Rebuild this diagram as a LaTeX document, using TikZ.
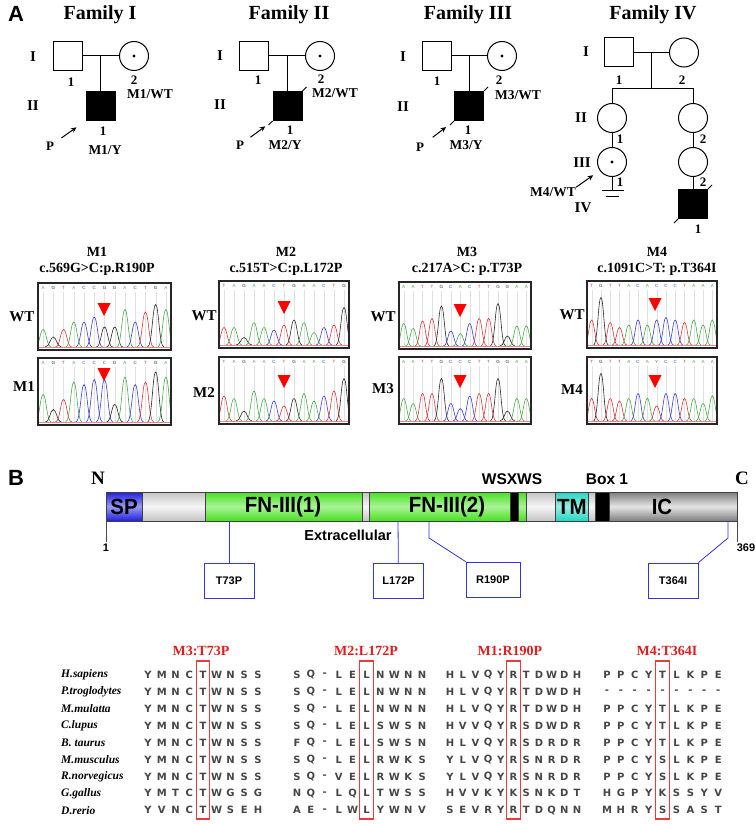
\documentclass[tikz,border=0pt]{standalone}
\usepackage{fontspec}
\setmainfont{Liberation Serif}
\setsansfont{Liberation Sans}
\newfontfamily\seqfont{DejaVu Sans}
\usetikzlibrary{calc,arrows.meta}

\definecolor{baseA}{RGB}{70,170,70}
\definecolor{baseC}{RGB}{60,60,210}
\definecolor{baseG}{RGB}{40,40,40}
\definecolor{baseT}{RGB}{215,55,55}
\definecolor{baseY}{RGB}{215,55,55}
\definecolor{spblue}{RGB}{30,30,225}
\definecolor{exgray}{RGB}{195,195,195}
\definecolor{fngreen}{RGB}{70,225,30}
\definecolor{tmcyan}{RGB}{30,215,195}
\definecolor{icgray}{RGB}{125,125,125}
\definecolor{mutblue}{RGB}{50,50,230}
\definecolor{hitred}{RGB}{225,30,30}
\definecolor{boxred}{RGB}{235,60,60}
\definecolor{aagray}{RGB}{70,70,70}

\tikzset{
  ped/.style={line width=1pt},
  male/.style={draw, line width=1pt, minimum size=29pt, inner sep=0pt},
  female/.style={draw, circle, line width=1pt, minimum size=29pt, inner sep=0pt},
  affected/.style={male, fill=black},
  parrow/.style={line width=1pt, -{Stealth[length=5.5pt,width=5pt]}},
  famtitle/.style={font=\fontsize{20}{20}\selectfont\bfseries},
  gen/.style={font=\fontsize{15}{15}\selectfont\bfseries, inner sep=0pt},
  idx/.style={font=\fontsize{13}{13}\selectfont\bfseries, inner sep=0pt},
  geno/.style={font=\fontsize{13.5}{13.5}\selectfont\bfseries, inner sep=0pt},
  panel/.style={font=\fontsize{22}{22}\selectfont\sffamily\bfseries, inner sep=0pt},
  mtitle/.style={font=\fontsize{14}{14}\selectfont\bfseries, inner sep=0pt},
  rowlab/.style={font=\fontsize{15}{15}\selectfont\bfseries, inner sep=0pt},
  chbox/.style={draw=black!85, line width=1.1pt},
  basetxt/.style={font=\fontsize{4.5}{4.5}\selectfont\sffamily, inner sep=0pt},
  redmark/.style={fill=red},
  domtxt/.style={font=\fontsize{22}{22}\selectfont\sffamily\bfseries, inner sep=0pt},
  sitetxt/.style={font=\fontsize{15.5}{15.5}\selectfont\sffamily\bfseries, inner sep=0pt},
  endtxt/.style={font=\fontsize{19}{19}\selectfont\bfseries, inner sep=0pt},
  numtxt/.style={font=\fontsize{11}{11}\selectfont\sffamily\bfseries, inner sep=0pt},
  mutbox/.style={draw=mutblue, line width=0.8pt, minimum width=50pt, minimum height=35pt,
    inner sep=0pt, font=\fontsize{11}{11}\selectfont\sffamily\bfseries},
  mutline/.style={draw=mutblue, line width=0.8pt},
  species/.style={font=\fontsize{11.5}{11.5}\selectfont\bfseries\itshape, anchor=west, inner sep=0pt},
  aa/.style={font=\fontsize{10}{10}\seqfont\bfseries, text=aagray, inner sep=0pt},
  hdr/.style={font=\fontsize{14}{14}\selectfont\bfseries, text=hitred, inner sep=0pt},
  hitbox/.style={draw=boxred, line width=1.3pt}
}

% narrow bold text inside the bar
\newcommand{\domname}[1]{\scalebox{0.93}[1]{#1}}

% chromatogram: name, x, y, width, number of bases, list base/height
\newcommand{\chromat}[6]{%
  \pgfmathsetmacro{\chdx}{#4/#5}
  \begin{scope}
    \clip (#2,#3) rectangle ++(#4,67);
    \foreach \bs/\bh [count=\i] in {#6}{
      \pgfmathsetmacro{\pkx}{#2+(\i-0.5)*\chdx}
      \pgfmathsetmacro{\pky}{#3+64-\bh*50}
      \draw[black!12, line width=0.3pt] (\pkx,#3+9) -- (\pkx,#3+64);
      \node[basetxt, text=base\bs] (#1-\i) at (\pkx,#3+5) {\bs};
      \draw[color=base\bs, line width=0.6pt] (\pkx-0.8*\chdx,#3+64) .. controls (\pkx-0.35*\chdx,#3+64) and (\pkx-0.3*\chdx,\pky) .. (\pkx,\pky) .. controls (\pkx+0.3*\chdx,\pky) and (\pkx+0.35*\chdx,#3+64) .. (\pkx+0.8*\chdx,#3+64);
    }
    \draw[baseT!60, line width=0.4pt] (#2,#3+64.5) -- ++(#4,0);
  \end{scope}
  \draw[chbox] (#2,#3) rectangle ++(#4,67);
}

\begin{document}
\begin{tikzpicture}[x=1pt,y=1pt,yscale=-1]
\fill[white] (0,0) rectangle (753,824);

% ---------------- panel A: pedigrees
\node[panel] (labA) at (16,14) {A};
\node[famtitle] (t1) at (100,15) {Family I};
\node[famtitle] (t2) at (289,15) {Family II};
\node[famtitle] (t3) at (468,15) {Family III};
\node[famtitle] (t4) at (653,15) {Family IV};

% Family I
\node[male] (f1a) at (67.5,56) {};
\node[female] (f1b) at (134,56) {};
\node[affected, minimum size=29pt] (f1c) at (100.5,106) {};
\fill (f1b) circle (1.6pt);
\coordinate (f1m) at ($(f1a.east)!0.5!(f1b.west)$);
\draw[ped] (f1a) -- (f1b);
\draw[ped] (f1m) -- (f1m |- f1c.north);
\node[gen] (g1i) at (33,57) {I};
\node[gen] (g1ii) at (33,106) {II};
\node[idx] (n1a) at (71,82) {1};
\node[idx] (n1b) at (134,80) {2};
\node[geno] (w1) at (150,94) {M1/WT};
\node[idx] (n1c) at (103,131) {1};
\node[geno] (y1) at (105,150) {M1/Y};
\node[idx] (p1) at (50,146) {P};
\draw[parrow, shorten <=14pt, shorten >=11pt] (p1.center) -- (f1c.south west);

% Family II
\node[male] (f2a) at (254,56) {};
\node[female] (f2b) at (320,56) {};
\node[affected] (f2c) at (287.5,106) {};
\fill (f2b) circle (1.6pt);
\coordinate (f2m) at ($(f2a.east)!0.5!(f2b.west)$);
\draw[ped] (f2a) -- (f2b);
\draw[ped] (f2m) -- (f2m |- f2c.north);
\draw[ped] (f2c.north east) -- ++(4,-4);
\draw[ped] (f2c.south west) -- ++(-4,4);
\node[gen] (g2i) at (220,56) {I};
\node[gen] (g2ii) at (220,105) {II};
\node[idx] (n2a) at (258,80) {1};
\node[idx] (n2b) at (321,79) {2};
\node[geno] (w2) at (335,93) {M2/WT};
\node[idx] (n2c) at (290,130) {1};
\node[geno] (y2) at (285,145) {M2/Y};
\node[idx] (p2) at (240,145) {P};
\draw[parrow, shorten <=13pt, shorten >=9pt] (p2.center) -- (f2c.south west);

% Family III
\node[male] (f3a) at (436.5,56) {};
\node[female] (f3b) at (502,56) {};
\node[affected] (f3c) at (469,106) {};
\fill (f3b) circle (1.6pt);
\coordinate (f3m) at ($(f3a.east)!0.5!(f3b.west)$);
\draw[ped] (f3a) -- (f3b);
\draw[ped] (f3m) -- (f3m |- f3c.north);
\draw[ped] (f3c.north east) -- ++(4,-4);
\draw[ped] (f3c.south west) -- ++(-4,4);
\node[gen] (g3i) at (403,57) {I};
\node[gen] (g3ii) at (403,107) {II};
\node[idx] (n3a) at (437,81) {1};
\node[idx] (n3b) at (499,80) {2};
\node[geno] (w3) at (518,95) {M3/WT};
\node[idx] (n3c) at (468,130) {1};
\node[geno] (y3) at (466,145) {M3/Y};
\node[idx] (p3) at (420,147) {P};
\draw[parrow, shorten <=16pt, shorten >=10pt] (p3.center) -- (f3c.south west);

% Family IV
\node[male] (f4a) at (618.5,52.5) {};
\node[female] (f4b) at (684,52.5) {};
\node[female] (f4c) at (612,118) {};
\node[female] (f4d) at (693,118) {};
\node[female] (f4e) at (612,162) {};
\node[female] (f4f) at (693,162) {};
\node[affected] (f4g) at (693,204) {};
\fill (f4e) circle (1.6pt);
\coordinate (f4m) at ($(f4a.east)!0.5!(f4b.west)$);
\coordinate (f4s) at ($(f4m)+(0,36.5)$);
\draw[ped] (f4a) -- (f4b);
\draw[ped] (f4m) -- (f4s);
\draw[ped] (f4c.north) |- (f4s);
\draw[ped] (f4d.north) |- (f4s);
\draw[ped] (f4c) -- (f4e);
\draw[ped] (f4d) -- (f4f);
\draw[ped] (f4f) -- (f4g);
\coordinate (f4n) at ($(f4e.south)+(0,13.5)$);
\draw[ped] (f4e.south) -- (f4n);
\draw[ped] ($(f4n)+(-10.5,0)$) -- ++(22,0);
\draw[ped] ($(f4n)+(-6,6)$) -- ++(13,0);
\draw[ped] (f4g.north east) -- ++(4,-4);
\draw[ped] (f4g.south west) -- ++(-4,4);
\node[gen] (g4i) at (586,52) {I};
\node[gen] (g4ii) at (581,118) {II};
\node[gen] (g4iii) at (582,163) {III};
\node[gen] (g4iv) at (583,208) {IV};
\node[idx] (n4a) at (619,80) {1};
\node[idx] (n4b) at (682,80) {2};
\node[idx] (n4c) at (620,139) {1};
\node[idx] (n4d) at (703,139) {2};
\node[idx] (n4e) at (620,182) {1};
\node[idx] (n4f) at (703,182) {2};
\node[idx] (n4g) at (698,229) {1};
\node[geno] (w4) at (553,192) {M4/WT};
\draw[parrow, shorten >=23pt] (w4.north east) -- (f4e.center);

% ---------------- panel A: sequencing
\node[mtitle] (h1) at (97,252) {M1};
\node[mtitle] (c1) at (97,269) {c.569G>C:p.R190P};
\node[mtitle] (h2) at (286,252) {M2};
\node[mtitle] (c2) at (286,269) {c.515T>C:p.L172P};
\node[mtitle] (h3) at (467,252) {M3};
\node[mtitle] (c3) at (467,269) {c.217A>C: p.T73P};
\node[mtitle] (h4) at (657,252) {M4};
\node[mtitle] (c4) at (657,269) {c.1091C>T: p.T364I};

\chromat{s1w}{38}{283}{133}{13}{A/.35,G/.2,T/.35,A/.5,C/.5,C/.6,G/.4,G/.4,A/.75,C/.5,T/.7,G/.85,A/.75}
\chromat{s1m}{38}{358}{133}{13}{A/.55,G/.25,T/.45,A/.8,C/.75,C/.85,C/.85,G/.35,A/.9,C/.75,T/.8,G/1,A/.9}
\chromat{s2w}{219}{281}{130}{13}{T/.35,A/.35,G/.15,A/.45,A/.35,C/.3,T/.4,G/.5,A/.45,A/.25,C/.35,T/.4,G/.75}
\chromat{s2m}{219}{357}{130}{13}{T/.5,A/.45,G/.2,A/.6,A/.45,C/.4,T/.3,G/.45,A/.55,A/.4,C/.5,T/.6,G/.85}
\chromat{s3w}{399}{282}{132}{14}{A/.45,A/.35,T/.5,T/.55,G/.8,C/.3,A/.25,C/.45,T/.55,T/.55,G/.85,G/.2,A/.4,A/.4}
\chromat{s3m}{399}{357}{132}{14}{A/.45,A/.35,T/.55,T/.55,G/.85,C/.35,C/.25,C/.5,T/.55,T/.55,G/.85,G/.2,A/.45,A/.45}
\chromat{s4w}{587}{281}{130}{14}{T/.5,G/.95,T/.45,T/.35,A/.4,C/.5,A/.4,C/.5,C/.55,C/.5,T/.45,A/.5,A/.4,A/.5}
\chromat{s4m}{587}{357}{130}{14}{T/.45,G/.95,T/.45,T/.4,A/.45,C/.55,A/.45,Y/.3,C/.55,C/.55,T/.45,A/.45,A/.35,A/.5}

\node[rowlab] (r1w) at (22,317) {WT};
\node[rowlab] (r1m) at (24,387) {M1};
\node[rowlab] (r2w) at (204,316) {WT};
\node[rowlab] (r2m) at (204,393) {M2};
\node[rowlab] (r3w) at (383,317) {WT};
\node[rowlab] (r3m) at (383,389) {M3};
\node[rowlab] (r4w) at (572,315) {WT};
\node[rowlab] (r4m) at (572,390) {M4};

% red marks
\foreach \mx/\my in {104/303, 104/368, 284/301, 284/375, 460/304, 460/375, 655/298, 655/375}
  \fill[redmark] (\mx-6.5,\my) -- (\mx+6.5,\my) -- (\mx,\my+13) -- cycle;

% ---------------- panel B: protein
\node[panel] (labB) at (16,478) {B};
\node[endtxt] (nterm) at (98,478) {N};
\node[endtxt] (cterm) at (742,478) {C};

\foreach \xa/\xb/\ct/\cm in {106/142/spblue/spblue!45!white, 142/205/exgray/exgray!15!white,
    205/362/fngreen/fngreen!45!white, 362/369/exgray/exgray!15!white,
    369/510/fngreen/fngreen!45!white, 510/518/black/black, 518/526/fngreen/fngreen!45!white,
    526/555/exgray/exgray!15!white, 555/588/tmcyan/tmcyan!45!white, 588/595/exgray/exgray!15!white,
    595/609/black/black, 609/737/icgray/icgray!20!white}
  \shade[top color=\ct, bottom color=\ct, middle color=\cm, draw=black!75, line width=0.5pt]
    (\xa,492) rectangle (\xb,521);

\node[domtxt] (dsp) at (124,506.5) {\domname{SP}};
\node[domtxt] (dfn1) at (283,506.5) {\domname{FN-III(1)}};
\node[domtxt] (dfn2) at (447,506.5) {\domname{FN-III(2)}};
\node[domtxt] (dtm) at (572,506.5) {\domname{TM}};
\node[domtxt] (dic) at (662,506.5) {\domname{IC}};
\node[sitetxt] (wsx) at (512,479) {WSXWS};
\node[sitetxt] (box1) at (607,479) {Box 1};
\node[font=\fontsize{14.5}{14.5}\selectfont\sffamily\bfseries, inner sep=0pt] (extra) at (348,535) {Extracellular};

\coordinate (pn) at (106,521);
\coordinate (pc) at (737,521);
\node[numtxt] (num1) at (106,548) {1};
\node[numtxt] (num369) at (746,548) {369};
\draw[black!70, line width=0.6pt] (pn) -- ($(num1.north)+(0,-2)$);
\draw[black!70, line width=0.6pt] (pc) -- ++(0,21);

\coordinate (s73) at (229,521);
\coordinate (s172) at (398,521);
\coordinate (s190) at (429,521);
\coordinate (s364) at (728,521);
\node[mutbox] (m73) at (229,580.5) {T73P};
\node[mutbox] (m172) at (398.5,580.5) {L172P};
\node[mutbox, minimum width=54pt] (m190) at (493,579.5) {R190P};
\node[mutbox] (m364) at (673,580.5) {T364I};
\draw[mutline] (s73) -- (m73);
\draw[mutline] (s172) -- (m172);
\draw[mutline] (s190) -- ++(0,17) -- (m190.north west);
\draw[mutline] (s364) -- ++(0,17) -- (m364.north east);

% ---------------- panel B: alignment
\node[hdr] (a73) at (201,651) {M3:T73P};
\node[hdr] (a172) at (366,651) {M2:L172P};
\node[hdr] (a190) at (510,651) {M1:R190P};
\node[hdr] (a364) at (667,651) {M4:T364I};

\foreach \sp/\ga/\gb/\gc/\gd [count=\r from 0] in {
  {H.sapiens}/{Y,M,N,C,T,W,N,S,S}/{S,Q,-,L,E,L,N,W,N,N}/{H,L,V,Q,Y,R,T,D,W,D,H}/{P,P,C,Y,T,L,K,P,E},
  {P.troglodytes}/{Y,M,N,C,T,W,N,S,S}/{S,Q,-,L,E,L,N,W,N,N}/{H,L,V,Q,Y,R,T,D,W,D,H}/{-,-,-,-,-,-,-,-,-},
  {M.mulatta}/{Y,M,N,C,T,W,N,S,S}/{S,Q,-,L,E,L,N,W,N,N}/{H,L,V,Q,Y,R,T,D,W,D,H}/{P,P,C,Y,T,L,K,P,E},
  {C.lupus}/{Y,M,N,C,T,W,N,S,S}/{S,Q,-,L,E,L,S,W,S,N}/{H,V,V,Q,Y,R,S,D,W,D,R}/{P,P,C,Y,T,L,K,P,E},
  {B. taurus}/{Y,M,N,C,T,W,N,S,S}/{F,Q,-,L,E,L,S,W,S,N}/{H,L,V,Q,Y,R,S,D,R,D,R}/{P,P,C,Y,T,L,K,P,E},
  {M.musculus}/{Y,M,N,C,T,W,N,S,S}/{S,Q,-,L,E,L,R,W,K,S}/{Y,L,V,Q,Y,R,S,N,R,D,R}/{P,P,C,Y,S,L,K,P,E},
  {R.norvegicus}/{Y,M,N,C,T,W,N,S,S}/{S,Q,-,V,E,L,R,W,K,S}/{Y,L,V,Q,Y,R,S,N,R,D,R}/{P,P,C,Y,S,L,K,P,E},
  {G.gallus}/{Y,M,T,C,T,W,G,S,G}/{N,Q,-,L,Q,L,T,W,S,S}/{H,V,V,K,Y,K,S,N,K,D,T}/{H,G,P,Y,K,S,S,Y,V},
  {D.rerio}/{Y,V,N,C,T,W,S,E,H}/{A,E,-,L,W,L,Y,W,N,V}/{S,E,V,R,Y,R,T,D,Q,N,N}/{M,H,R,Y,S,S,A,S,T}}
{
  \pgfmathsetmacro{\ry}{675+\r*16.9}
  \node[species] (sp\r) at (61,\ry) {\sp};
  \foreach \c [count=\i from 0] in \ga {\node[aa] (a\r-1-\i) at (148+\i*13.75,\ry) {\c};}
  \foreach \c [count=\i from 0] in \gb {\node[aa] (a\r-2-\i) at (297+\i*13.9,\ry) {\c};}
  \foreach \c [count=\i from 0] in \gc {\node[aa] (a\r-3-\i) at (450+\i*12.7,\ry) {\c};}
  \foreach \c [count=\i from 0] in \gd {\node[aa] (a\r-4-\i) at (607+\i*13.9,\ry) {\c};}
}

\draw[hitbox] (196.5,661) rectangle (209.5,819);
\draw[hitbox] (359.5,661) rectangle (373.5,819);
\draw[hitbox] (506.5,661) rectangle (520.5,819);
\draw[hitbox] (655.5,661) rectangle (669.5,819);

\end{tikzpicture}
\end{document}
